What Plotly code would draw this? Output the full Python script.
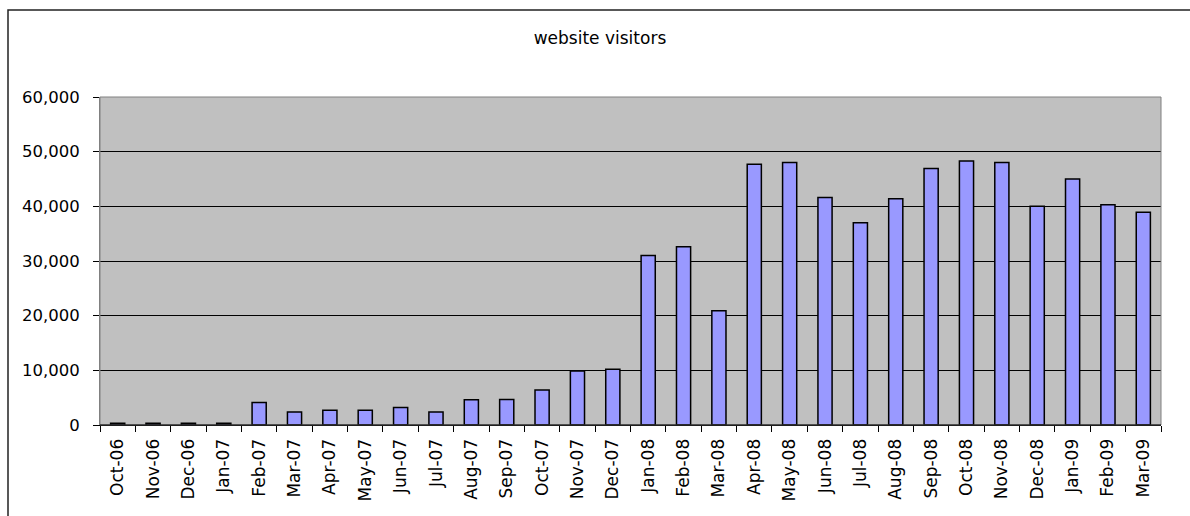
import plotly.graph_objects as go

months = ["Oct-06", "Nov-06", "Dec-06", "Jan-07", "Feb-07", "Mar-07", "Apr-07", "May-07",
          "Jun-07", "Jul-07", "Aug-07", "Sep-07", "Oct-07", "Nov-07", "Dec-07", "Jan-08",
          "Feb-08", "Mar-08", "Apr-08", "May-08", "Jun-08", "Jul-08", "Aug-08", "Sep-08",
          "Oct-08", "Nov-08", "Dec-08", "Jan-09", "Feb-09", "Mar-09"]
visitors = [300, 300, 300, 300, 4100, 2400, 2700, 2700,
            3200, 2400, 4600, 4650, 6400, 9900, 10200, 31000,
            32600, 20900, 47700, 48000, 41600, 37000, 41400, 46900,
            48300, 48000, 40000, 45000, 40300, 38900]
y_ticks = [0, 10000, 20000, 30000, 40000, 50000, 60000]
title_text = "website visitors"

FONT = "DejaVu Sans"

fig = go.Figure(go.Bar(
    x=months, y=visitors,
    marker=dict(color="#9999FF", line=dict(color="#000000", width=1.5)),
    width=0.4,
))

W, H = 1190, 516
L, R, T, B = 100, 29, 97, 91
pw, ph = W - L - R, H - T - B

fig.update_layout(
    width=W, height=H,
    margin=dict(l=L, r=R, t=T, b=B, pad=0),
    paper_bgcolor="white",
    plot_bgcolor="#C0C0C0",
    showlegend=False,
    font=dict(family=FONT, size=16, color="black"),
    title=dict(text=title_text, x=600 / W, xanchor="center", xref="container",
               y=1 - 38 / H, yanchor="middle", yref="container",
               font=dict(family=FONT, size=17, color="black")),
    bargap=0.6,
)

fig.update_xaxes(
    type="category",
    tickangle=-90,
    tickson="boundaries",
    ticks="outside", ticklen=6, tickcolor="black", tickwidth=1,
    showline=True, linecolor="black", linewidth=1,
    showgrid=False,
    ticklabelstandoff=6,
    tickfont=dict(family=FONT, size=17, color="black"),
    range=[-0.5, len(months) - 0.5],
)
fig.update_yaxes(
    range=[0, 60000],
    tickvals=y_ticks,
    tickformat=",d",
    ticks="outside", ticklen=6, tickcolor="black", tickwidth=1,
    showline=True, linecolor="#808080", linewidth=1,
    showgrid=True, gridcolor="black", gridwidth=1,
    zeroline=False,
    ticklabelstandoff=10,
    tickfont=dict(family=FONT, size=16.5, color="black"),
)

# plot area border (grey)
fig.add_shape(type="rect", xref="paper", yref="paper", x0=0, y0=0, x1=1, y1=1,
              line=dict(color="#808080", width=1), fillcolor="rgba(0,0,0,0)", layer="above")
# chart outer border
fig.add_shape(type="rect", xref="paper", yref="paper",
              x0=(8 - L) / pw, x1=(W + 10 - L) / pw,
              y0=-(H + 10 - (T + ph)) / ph, y1=(T + ph - 10) / ph,
              line=dict(color="#222222", width=1.5), fillcolor="rgba(0,0,0,0)", layer="above")
# x axis baseline in black on top
fig.add_shape(type="line", xref="paper", yref="paper", x0=0, x1=1, y0=0, y1=0,
              line=dict(color="black", width=1), layer="above")

fig.write_html("out.html",
               config={"displayModeBar": False},
               post_script="document.body.style.margin='0';document.body.style.overflow='hidden';")
